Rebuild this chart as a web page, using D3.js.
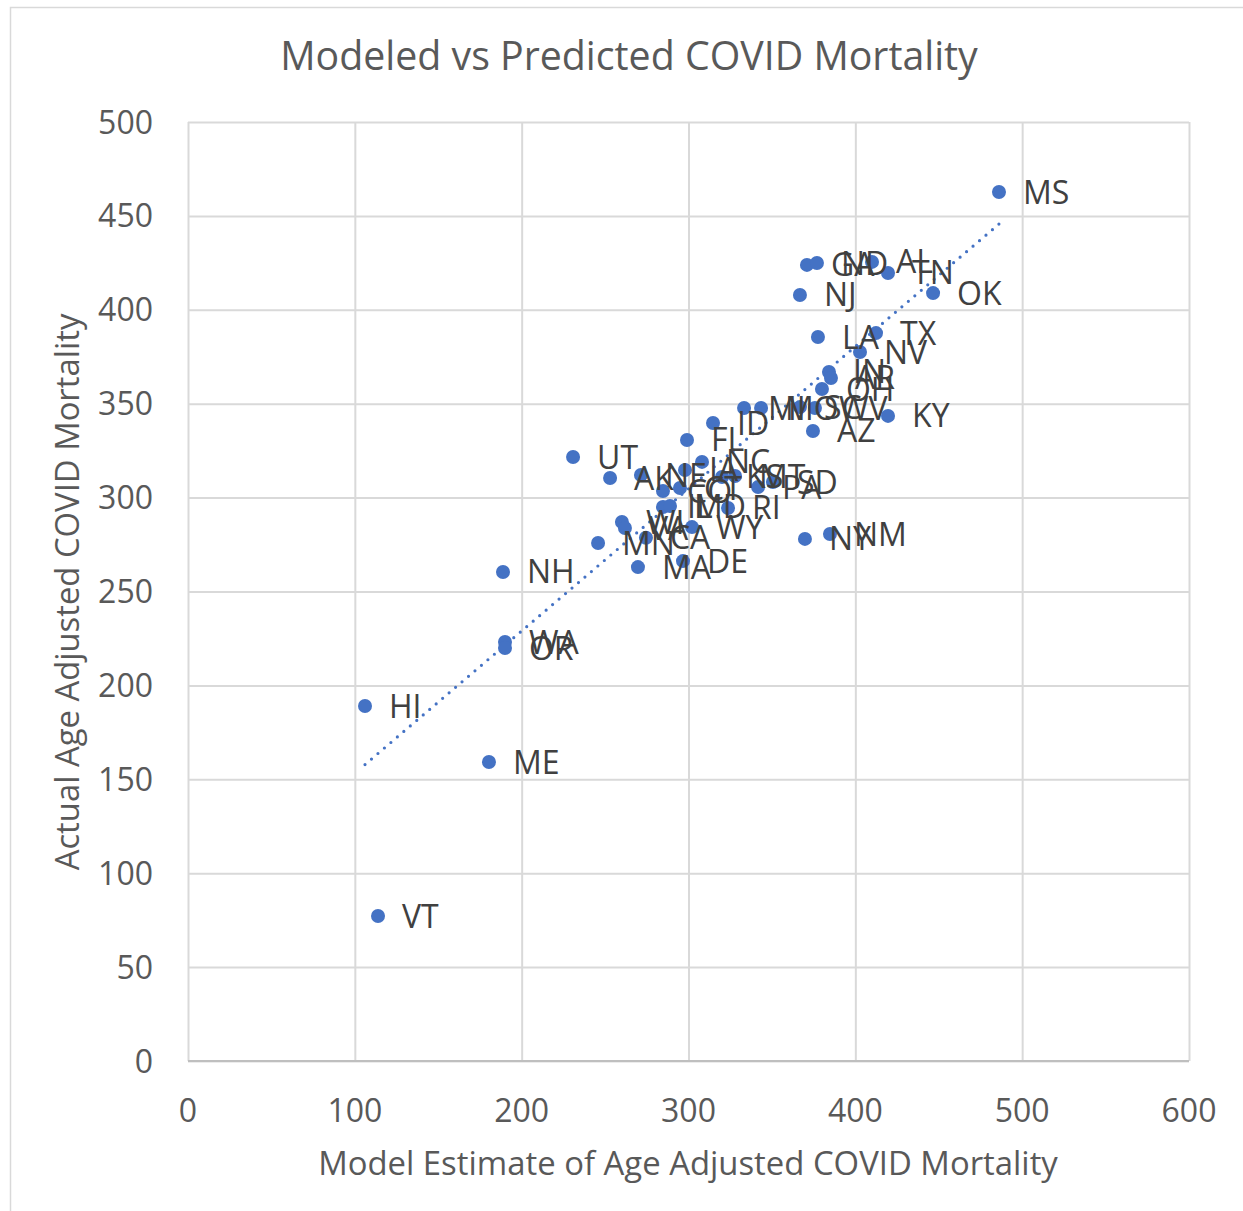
<!DOCTYPE html>
<html>
<head>
<meta charset="utf-8">
<script src="https://cdn.jsdelivr.net/npm/d3@7"></script>
<style>
  html, body { margin: 0; padding: 0; background: #ffffff; }
  svg { display: block; }
</style>
</head>
<body>
<svg id="chart" width="1243" height="1211"></svg>
<script>
// ---- Data ----
const states = ["MS","GA","ND","AL","TN","OK","NJ","LA","TX","NV","IN","AR","OH","MI","MO","SC","WV","KY","AZ","ID","FL","UT","AK","NE","IA","NC","KS","MT","SD","PA","CO","CT","IL","MD","RI","WI","VA","WY","MN","CA","MA","DE","NY","NM","NH","WA","OR","HI","ME","VT"];
const modelEstimate = [486.1,371.0,377.0,410.0,419.6,446.6,366.8,377.6,412.4,402.8,384.2,385.4,380.0,333.3,343.5,366.8,375.8,419.6,374.6,314.7,299.1,230.8,253.0,271.5,297.9,308.1,320.1,327.9,350.6,341.7,284.7,294.9,284.7,288.9,323.7,260.1,261.9,302.1,245.8,274.5,269.7,296.7,369.8,384.8,188.8,190.0,190.0,106.1,180.4,113.9];
const actualMortality = [462.7,423.9,424.9,425.5,419.6,408.9,407.9,385.5,387.6,377.5,366.9,363.7,357.8,347.7,347.7,348.2,347.7,343.5,335.5,339.7,330.7,321.6,310.4,312.0,314.7,319.0,311.0,311.5,308.3,305.6,303.5,305.1,295.0,295.5,294.5,287.0,283.8,284.3,275.8,278.6,263.0,266.2,278.0,280.6,260.4,223.1,219.9,189.0,159.2,77.2];
const xTicks = [0,100,200,300,400,500,600];
const yTicks = [0,50,100,150,200,250,300,350,400,450,500];
const titleText = "Modeled vs Predicted COVID Mortality";
const xTitle = "Model Estimate of Age Adjusted COVID Mortality";
const yTitle = "Actual Age Adjusted COVID Mortality";

// ---- Layout ----
const svg = d3.select("#chart");
const pLeft = 188, pRight = 1189, pTop = 122, pBottom = 1061;
const font = "'Open Sans', 'DejaVu Sans', sans-serif";
const x = d3.scaleLinear().domain([0, 600]).range([pLeft, pRight]);
const y = d3.scaleLinear().domain([0, 500]).range([pBottom, pTop]);

// chart border
svg.append("rect").attr("x", 10.5).attr("y", 7.5).attr("width", 1260).attr("height", 1230)
  .attr("fill", "#fff").attr("stroke", "#d9d9d9").attr("stroke-width", 1.5);

// gridlines
svg.append("g").attr("transform", `translate(0,${pBottom})`)
  .call(d3.axisBottom(x).tickValues(xTicks).tickSize(-(pBottom - pTop)).tickFormat(""))
  .call(g => g.select(".domain").remove())
  .call(g => g.selectAll("line").attr("stroke", "#d9d9d9").attr("stroke-width", 2));
svg.append("g").attr("transform", `translate(${pLeft},0)`)
  .call(d3.axisLeft(y).tickValues(yTicks).tickSize(-(pRight - pLeft)).tickFormat(""))
  .call(g => g.select(".domain").remove())
  .call(g => g.selectAll("line").attr("stroke", "#d9d9d9").attr("stroke-width", 2));
// x baseline
svg.append("line").attr("x1", pLeft).attr("x2", pRight).attr("y1", y(0)).attr("y2", y(0))
  .attr("stroke", "#bfbfbf").attr("stroke-width", 2);

// tick labels
svg.append("g").selectAll("text").data(xTicks).join("text")
  .attr("x", d => x(d)).attr("y", 1122).attr("text-anchor", "middle")
  .attr("font-family", font).attr("font-size", 32).attr("fill", "#595959").text(d => d);
svg.append("g").selectAll("text").data(yTicks).join("text")
  .attr("x", 153).attr("y", d => y(d) + 11.5).attr("text-anchor", "end")
  .attr("font-family", font).attr("font-size", 32).attr("fill", "#595959").text(d => d);

function fitText(sel, width, baseSize) {
  sel.attr("font-size", baseSize);
  const w = sel.node().getComputedTextLength();
  sel.attr("font-size", baseSize * width / w);
}

// title
const t = svg.append("text").attr("x", 629).attr("y", 70).attr("text-anchor", "middle")
  .attr("font-family", font).attr("fill", "#595959").text(titleText);
fitText(t, 698, 38);

// axis titles
const xt = svg.append("text").attr("x", 688).attr("y", 1175).attr("text-anchor", "middle")
  .attr("font-family", font).attr("fill", "#595959").text(xTitle);
fitText(xt, 740, 32);
const yt = svg.append("text").attr("transform", "translate(79,592) rotate(-90)").attr("text-anchor", "middle")
  .attr("font-family", font).attr("fill", "#595959").text(yTitle);
fitText(yt, 557, 32);

// trendline (least squares)
const n = modelEstimate.length;
const mx = d3.mean(modelEstimate), my = d3.mean(actualMortality);
let sxy = 0, sxx = 0;
for (let i = 0; i < n; i++) { sxy += (modelEstimate[i]-mx)*(actualMortality[i]-my); sxx += (modelEstimate[i]-mx)**2; }
const slope = sxy / sxx, intercept = my - slope * mx;
const [xmin, xmax] = d3.extent(modelEstimate);
svg.append("line")
  .attr("x1", x(xmin)).attr("y1", y(intercept + slope * xmin))
  .attr("x2", x(xmax)).attr("y2", y(intercept + slope * xmax))
  .attr("stroke", "#4472C4").attr("stroke-width", 3.2).attr("stroke-linecap", "round")
  .attr("stroke-dasharray", "0 8.5");

// points
const data = states.map((s, i) => ({ s, xv: modelEstimate[i], yv: actualMortality[i] }));
svg.append("g").selectAll("circle").data(data).join("circle")
  .attr("cx", d => x(d.xv)).attr("cy", d => y(d.yv)).attr("r", 7)
  .attr("fill", "#4472C4");

// labels
svg.append("g").selectAll("text").data(data).join("text")
  .attr("x", d => x(d.xv) + 24).attr("y", d => y(d.yv) + 11.5)
  .attr("font-family", font).attr("font-size", 32).attr("fill", "#404040")
  .text(d => d.s);
</script>
</body>
</html>
